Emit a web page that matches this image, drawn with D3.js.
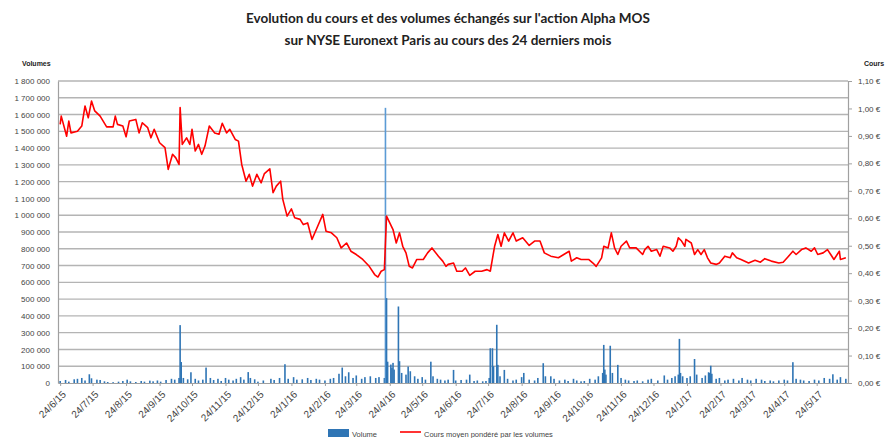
<!DOCTYPE html>
<html>
<head>
<meta charset="utf-8">
<script src="https://cdn.jsdelivr.net/npm/d3@7"></script>
<style>
	body { margin: 0; background: #fff; }
	svg { display: block; }
</style>
</head>
<body>
<svg id="chart" width="885" height="438"></svg>
<script>
// titre
var titleLines = [
	"Evolution du cours et des volumes échangés sur l'action Alpha MOS",
	"sur NYSE Euronext Paris au cours des 24 derniers mois"
];

// cours moyen pondéré (€)
var coursData = [
	["2015-06-24",0.942],["2015-06-25",0.972],["2015-06-30",0.899],["2015-07-02",0.954],["2015-07-04",0.911],
	["2015-07-10",0.917],["2015-07-14",0.936],["2015-07-17",1.009],["2015-07-20",0.966],["2015-07-23",1.027],
	["2015-07-26",0.991],["2015-07-31",0.972],["2015-08-06",0.933],["2015-08-12",0.933],["2015-08-14",0.972],
	["2015-08-16",0.942],["2015-08-21",0.936],["2015-08-24",0.897],["2015-08-27",0.954],["2015-09-02",0.960],
	["2015-09-05",0.911],["2015-09-08",0.948],["2015-09-13",0.930],["2015-09-16",0.893],["2015-09-19",0.924],
	["2015-09-24",0.875],["2015-09-29",0.857],["2015-10-02",0.778],["2015-10-06",0.833],["2015-10-09",0.820],
	["2015-10-12",0.796],["2015-10-13",1.003],["2015-10-15",0.869],["2015-10-19",0.893],["2015-10-22",0.869],
	["2015-10-24",0.924],["2015-10-27",0.845],["2015-10-30",0.869],["2015-11-02",0.833],["2015-11-05",0.863],
	["2015-11-09",0.936],["2015-11-14",0.911],["2015-11-18",0.906],["2015-11-21",0.946],["2015-11-25",0.911],
	["2015-11-28",0.924],["2015-12-03",0.887],["2015-12-06",0.881],["2015-12-09",0.796],["2015-12-13",0.735],
	["2015-12-16",0.760],["2015-12-19",0.717],["2015-12-23",0.760],["2015-12-27",0.729],["2015-12-30",0.763],
	["2016-01-04",0.780],["2016-01-07",0.693],["2016-01-10",0.717],["2016-01-14",0.735],["2016-01-16",0.669],
	["2016-01-20",0.608],["2016-01-24",0.634],["2016-01-27",0.602],["2016-02-01",0.596],["2016-02-04",0.577],
	["2016-02-08",0.583],["2016-02-12",0.523],["2016-02-16",0.559],["2016-02-22",0.614],["2016-02-25",0.553],
	["2016-03-01",0.547],["2016-03-06",0.529],["2016-03-10",0.492],["2016-03-15",0.510],["2016-03-19",0.480],
	["2016-03-24",0.468],["2016-03-30",0.450],["2016-04-05",0.425],["2016-04-10",0.395],["2016-04-13",0.386],
	["2016-04-16",0.407],["2016-04-19",0.413],["2016-04-21",0.608],["2016-04-24",0.583],["2016-04-27",0.559],
	["2016-04-30",0.510],["2016-05-03",0.547],["2016-05-06",0.498],["2016-05-09",0.474],["2016-05-12",0.425],
	["2016-05-15",0.419],["2016-05-19",0.450],["2016-05-25",0.450],["2016-05-29",0.474],["2016-06-02",0.492],
	["2016-06-08",0.462],["2016-06-12",0.444],["2016-06-15",0.425],["2016-06-17",0.432],["2016-06-22",0.437],
	["2016-06-25",0.407],["2016-06-30",0.407],["2016-07-03",0.419],["2016-07-07",0.392],["2016-07-12",0.407],
	["2016-07-18",0.407],["2016-07-23",0.413],["2016-07-26",0.407],["2016-07-30",0.498],["2016-08-02",0.541],
	["2016-08-05",0.498],["2016-08-08",0.547],["2016-08-12",0.517],["2016-08-16",0.547],["2016-08-19",0.517],
	["2016-08-25",0.529],["2016-08-31",0.501],["2016-09-05",0.517],["2016-09-10",0.517],["2016-09-14",0.474],
	["2016-09-20",0.462],["2016-09-27",0.456],["2016-10-02",0.468],["2016-10-07",0.480],["2016-10-09",0.444],
	["2016-10-14",0.456],["2016-10-18",0.450],["2016-10-25",0.450],["2016-10-29",0.437],["2016-11-01",0.425],
	["2016-11-06",0.456],["2016-11-08",0.498],["2016-11-12",0.492],["2016-11-15",0.547],["2016-11-18",0.492],
	["2016-11-21",0.468],["2016-11-24",0.498],["2016-11-29",0.517],["2016-12-02",0.492],["2016-12-08",0.492],
	["2016-12-14",0.468],["2016-12-16",0.486],["2016-12-19",0.498],["2016-12-22",0.480],["2016-12-27",0.486],
	["2016-12-30",0.462],["2017-01-02",0.498],["2017-01-08",0.492],["2017-01-11",0.480],["2017-01-14",0.498],
	["2017-01-16",0.529],["2017-01-19",0.517],["2017-01-22",0.498],["2017-01-23",0.523],["2017-01-28",0.510],
	["2017-01-31",0.468],["2017-02-03",0.486],["2017-02-06",0.468],["2017-02-09",0.486],["2017-02-12",0.456],
	["2017-02-15",0.437],["2017-02-20",0.432],["2017-02-23",0.437],["2017-02-28",0.462],["2017-03-05",0.456],
	["2017-03-07",0.474],["2017-03-11",0.456],["2017-03-15",0.450],["2017-03-22",0.437],["2017-03-28",0.447],
	["2017-04-02",0.440],["2017-04-06",0.453],["2017-04-12",0.444],["2017-04-19",0.437],["2017-04-23",0.440],
	["2017-04-28",0.462],["2017-05-02",0.480],["2017-05-05",0.468],["2017-05-10",0.486],["2017-05-14",0.492],
	["2017-05-19",0.480],["2017-05-22",0.492],["2017-05-25",0.468],["2017-05-30",0.474],["2017-06-03",0.486],
	["2017-06-06",0.468],["2017-06-09",0.450],["2017-06-14",0.480],["2017-06-15",0.450],["2017-06-20",0.456]
];

// volumes échangés (titres)
var volumeData = [
	["2015-06-24",12000],["2015-06-29",18000],["2015-07-02",8000],["2015-07-07",22000],["2015-07-10",25000],
	["2015-07-14",30000],["2015-07-17",15000],["2015-07-21",52000],["2015-07-23",28000],["2015-07-28",20000],
	["2015-07-31",18000],["2015-08-04",10000],["2015-08-07",6000],["2015-08-12",5000],["2015-08-17",8000],
	["2015-08-21",12000],["2015-08-25",20000],["2015-08-28",10000],["2015-09-02",6000],["2015-09-07",12000],
	["2015-09-10",8000],["2015-09-15",14000],["2015-09-18",10000],["2015-09-22",15000],["2015-09-25",8000],
	["2015-09-30",18000],["2015-10-05",25000],["2015-10-08",20000],["2015-10-12",30000],["2015-10-13",345000],
	["2015-10-14",125000],["2015-10-16",30000],["2015-10-20",22000],["2015-10-23",64000],["2015-10-27",25000],
	["2015-10-30",15000],["2015-11-03",20000],["2015-11-06",92000],["2015-11-10",30000],["2015-11-13",18000],
	["2015-11-17",25000],["2015-11-20",12000],["2015-11-24",30000],["2015-11-27",20000],["2015-12-01",15000],
	["2015-12-04",25000],["2015-12-08",35000],["2015-12-11",20000],["2015-12-15",65000],["2015-12-17",30000],
	["2015-12-21",22000],["2015-12-24",8000],["2015-12-29",15000],["2016-01-05",25000],["2016-01-08",18000],
	["2016-01-13",30000],["2016-01-18",112000],["2016-01-21",25000],["2016-01-26",35000],["2016-01-29",20000],
	["2016-02-03",22000],["2016-02-08",30000],["2016-02-11",18000],["2016-02-16",25000],["2016-02-19",20000],
	["2016-02-24",15000],["2016-02-29",25000],["2016-03-03",30000],["2016-03-08",55000],["2016-03-11",92000],
	["2016-03-14",40000],["2016-03-17",64000],["2016-03-21",30000],["2016-03-24",45000],["2016-03-29",25000],
	["2016-04-01",35000],["2016-04-06",40000],["2016-04-11",30000],["2016-04-14",35000],["2016-04-19",30000],
	["2016-04-20",1640000],["2016-04-21",506000],["2016-04-22",127000],["2016-04-25",110000],["2016-04-26",90000],
	["2016-04-27",120000],["2016-04-28",80000],["2016-05-02",456000],["2016-05-03",130000],["2016-05-05",60000],
	["2016-05-09",50000],["2016-05-11",98000],["2016-05-13",70000],["2016-05-17",40000],["2016-05-20",25000],
	["2016-05-24",35000],["2016-05-27",20000],["2016-06-01",127000],["2016-06-03",40000],["2016-06-07",25000],
	["2016-06-10",20000],["2016-06-14",15000],["2016-06-17",20000],["2016-06-22",78000],["2016-06-24",15000],
	["2016-06-29",18000],["2016-07-04",20000],["2016-07-07",50000],["2016-07-11",12000],["2016-07-14",15000],
	["2016-07-19",10000],["2016-07-22",12000],["2016-07-25",30000],["2016-07-26",207000],["2016-07-28",207000],
	["2016-07-29",100000],["2016-08-01",347000],["2016-08-02",108000],["2016-08-04",40000],["2016-08-08",78000],
	["2016-08-11",25000],["2016-08-16",15000],["2016-08-19",20000],["2016-08-24",35000],["2016-08-26",60000],
	["2016-08-31",20000],["2016-09-05",15000],["2016-09-08",30000],["2016-09-13",118000],["2016-09-15",40000],
	["2016-09-20",40000],["2016-09-23",25000],["2016-09-28",15000],["2016-10-03",20000],["2016-10-06",12000],
	["2016-10-11",25000],["2016-10-14",15000],["2016-10-18",10000],["2016-10-21",12000],["2016-10-26",25000],
	["2016-10-31",20000],["2016-11-03",40000],["2016-11-07",60000],["2016-11-08",227000],["2016-11-09",80000],
	["2016-11-10",50000],["2016-11-14",222000],["2016-11-16",60000],["2016-11-21",108000],["2016-11-24",30000],
	["2016-11-28",20000],["2016-12-01",15000],["2016-12-06",12000],["2016-12-09",15000],["2016-12-14",10000],
	["2016-12-19",20000],["2016-12-22",25000],["2016-12-28",15000],["2017-01-03",45000],["2017-01-06",20000],
	["2017-01-10",30000],["2017-01-13",40000],["2017-01-16",50000],["2017-01-17",263000],["2017-01-18",60000],
	["2017-01-20",40000],["2017-01-24",30000],["2017-01-27",40000],["2017-01-31",143000],["2017-02-02",50000],
	["2017-02-07",30000],["2017-02-10",45000],["2017-02-13",64000],["2017-02-14",60000],["2017-02-15",103000],
	["2017-02-16",55000],["2017-02-20",25000],["2017-02-23",30000],["2017-02-28",15000],["2017-03-03",20000],
	["2017-03-08",25000],["2017-03-13",15000],["2017-03-16",30000],["2017-03-21",20000],["2017-03-24",15000],
	["2017-03-29",25000],["2017-04-03",20000],["2017-04-06",12000],["2017-04-11",15000],["2017-04-14",10000],
	["2017-04-19",15000],["2017-04-24",20000],["2017-04-27",15000],["2017-05-02",124000],["2017-05-05",25000],
	["2017-05-09",20000],["2017-05-12",15000],["2017-05-17",12000],["2017-05-22",20000],["2017-05-26",15000],
	["2017-05-31",30000],["2017-06-05",25000],["2017-06-08",52000],["2017-06-12",20000],["2017-06-15",35000],
	["2017-06-20",25000]
];

// graduations
var volumeTicks = d3.range(0, 1800001, 100000);
var coursTicks = d3.range(0, 1.101, 0.10);
var monthTicks = ["2015-06-24","2015-07-24","2015-08-24","2015-09-24","2015-10-24","2015-11-24",
	"2015-12-24","2016-01-24","2016-02-24","2016-03-24","2016-04-24","2016-05-24","2016-06-24",
	"2016-07-24","2016-08-24","2016-09-24","2016-10-24","2016-11-24","2016-12-24","2017-01-24",
	"2017-02-24","2017-03-24","2017-04-24","2017-05-24"];
var dateRange = ["2015-06-22","2017-06-22"];
var legendItems = ["Volume", "Cours  moyen pondéré  par les volumes"];

var parse = d3.timeParse("%Y-%m-%d");
var svg = d3.select("#chart");
var font = "'Liberation Sans', Arial, sans-serif";

// zone de tracé
var plotLeft = 58, plotRight = 848, plotTop = 81, plotBottom = 383;

var x = d3.scaleTime().domain(dateRange.map(parse)).range([plotLeft, plotRight]);
var yVol = d3.scaleLinear().domain([0, 1800000]).range([plotBottom, plotTop]);
var yCours = d3.scaleLinear().domain([0, 1.10]).range([plotBottom, plotTop]);

// titre
svg.append("g").selectAll("text")
	.data(titleLines)
	.enter().append("text")
	.attr("x", 448)
	.attr("y", function(d, i){ return 23 + i * 22; })
	.attr("text-anchor", "middle")
	.style("font-family", "Lato, sans-serif")
	.style("font-weight", "bold")
	.style("font-size", "13.5px")
	.style("fill", "#222")
	.text(function(d){ return d; });

// lignes de quadrillage
svg.append("g").selectAll("line")
	.data(volumeTicks.slice(1))
	.enter().append("line")
	.attr("x1", plotLeft).attr("x2", plotRight)
	.attr("y1", function(d){ return yVol(d); })
	.attr("y2", function(d){ return yVol(d); })
	.style("stroke", "#b4b4b4")
	.style("stroke-width", 1.4);

// axe gauche (volumes)
var fmtVol = function(d){ return d3.format(",")(d).replace(/,/g, " "); };
var gLeft = svg.append("g")
	.attr("transform", "translate(" + plotLeft + ",0)")
	.call(d3.axisLeft(yVol).tickValues(volumeTicks).tickFormat(fmtVol).tickSize(0).tickPadding(8));
gLeft.select(".domain").style("stroke", "#a0a0a0").style("stroke-width", 1.2);
gLeft.selectAll("text").style("font-family", font).style("font-size", "8px").style("fill", "#444");

// axe droit (cours)
var fmtCours = function(d){ return d3.format(".2f")(d).replace(".", ",") + " €"; };
var gRight = svg.append("g")
	.attr("transform", "translate(" + plotRight + ",0)")
	.call(d3.axisRight(yCours).tickValues(coursTicks).tickFormat(fmtCours).tickSize(4).tickPadding(6));
gRight.select(".domain").style("stroke", "#a0a0a0").style("stroke-width", 1.2);
gRight.selectAll("line").style("stroke", "#a0a0a0");
gRight.selectAll("text").style("font-family", font).style("font-size", "8px").style("fill", "#444");

// axe des dates
var gBottom = svg.append("g")
	.attr("transform", "translate(0," + plotBottom + ")")
	.call(d3.axisBottom(x).tickValues(monthTicks.map(parse)).tickFormat(d3.timeFormat("%-d/%-m/%y")).tickSize(3).tickSizeOuter(0));
gBottom.select(".domain").style("stroke", "#a0a0a0").style("stroke-width", 1.2);
gBottom.selectAll("line").style("stroke", "#a0a0a0");
gBottom.selectAll("text")
	.attr("text-anchor", "end")
	.attr("dx", 0).attr("dy", 0)
	.attr("y", 0)
	.attr("transform", "translate(6,12) rotate(-45)")
	.style("font-family", font).style("font-size", "10px").style("fill", "#444");

// titres des axes
svg.append("text").attr("x", 22).attr("y", 66)
	.style("font-family", font).style("font-size", "7px").style("font-weight", "bold").style("fill", "#222")
	.text("Volumes");
svg.append("text").attr("x", 864).attr("y", 66)
	.style("font-family", font).style("font-size", "7px").style("font-weight", "bold").style("fill", "#222")
	.text("Cours");

// barres de volume
svg.append("g").selectAll("rect")
	.data(volumeData)
	.enter().append("rect")
	.attr("x", function(d){ return x(parse(d[0])) - 0.8; })
	.attr("width", 1.6)
	.attr("y", function(d){ return yVol(d[1]); })
	.attr("height", function(d){ return plotBottom - yVol(d[1]); })
	.style("fill", function(d){ return d[1] > 1000000 ? "#5b9bd5" : "#2f75b5"; });

// courbe du cours
var line = d3.line()
	.x(function(d){ return x(parse(d[0])); })
	.y(function(d){ return yCours(d[1]); });
svg.append("path")
	.datum(coursData)
	.attr("d", line)
	.style("fill", "none")
	.style("stroke", "#ff0000")
	.style("stroke-width", 1.6)
	.style("stroke-linejoin", "round");

// légende
var gLeg = svg.append("g").style("font-family", font).style("font-size", "7.5px").style("fill", "#444");
gLeg.append("rect").attr("x", 328).attr("y", 429).attr("width", 21).attr("height", 8).style("fill", "#2f75b5");
gLeg.append("text").attr("x", 352).attr("y", 437).text(legendItems[0]);
gLeg.append("line").attr("x1", 400).attr("x2", 421).attr("y1", 432).attr("y2", 432)
	.style("stroke", "#ff0000").style("stroke-width", 1.6);
gLeg.append("text").attr("x", 424).attr("y", 437).text(legendItems[1]);
</script>
</body>
</html>
